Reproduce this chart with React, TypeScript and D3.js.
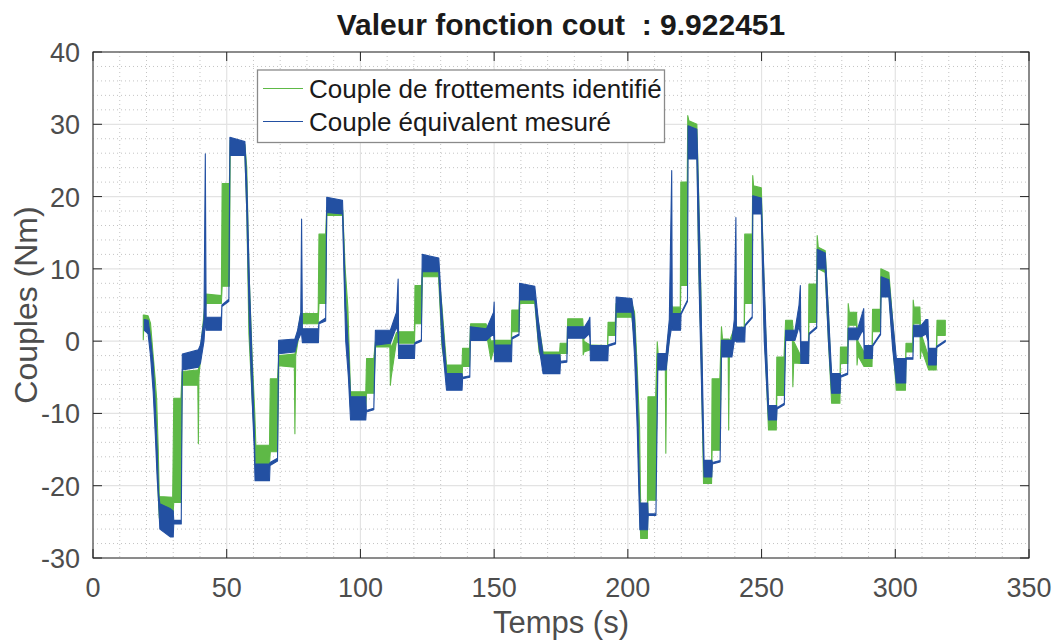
import { useEffect, useRef } from 'react';
import * as d3 from 'd3';

// [time (s), low, high] : band drawn by the oscillating signal
type Row = [number, number, number];

const xTicks = [0, 50, 100, 150, 200, 250, 300, 350];
const yTicks = [-30, -20, -10, 0, 10, 20, 30, 40];
const seriesNames = ['Couple de frottements identifié', 'Couple équivalent mesuré'];
const seriesColors = ['#5eb946', '#2350a2'];

const identified: Row[] = [
  [18.8, 0.2, 3.6], [19.1, 3.0, 3.6], [20.6, 2.9, 3.5], [21.5, 0.5, 2.5], [22.5, -5, -2],
  [23.2, -9, -5], [23.8, -15, -8], [24.4, -21.5, -15], [24.8, -24.5, -21.5], [29.8, -24.8, -21.6],
  [30.2, -22.3, -7.9], [32.9, -22.3, -7.9], [33.3, -6.1, -4.2], [39.2, -6.1, -4.0], [39.4, -14.2, -4.0],
  [39.6, -5, -3.5], [41.8, 4, 5], [42.3, 5.2, 6.5], [48.0, 5.2, 6.3], [48.3, 7.6, 21.8],
  [51.0, 7.6, 21.8], [51.3, 26, 27.8], [56.8, 25.8, 27.2], [57.5, 18, 24], [58.3, 1, 10],
  [59.5, -8, -2], [60.5, -14.5, -10], [60.9, -17, -14.4], [66.0, -17, -14.4], [66.3, -15.3, -5.2],
  [69.0, -15.3, -5.2], [69.5, -3.4, -2.0], [75.3, -3.6, -1.8], [75.5, -12.8, -2], [75.8, -2, -1],
  [77.5, 2, 3.5], [78.3, 2.4, 3.8], [84.2, 2.4, 3.8], [84.5, 5.2, 14.8], [87.0, 5.2, 14.8],
  [87.4, 17.4, 18.5], [93.4, 17.4, 18.1], [94.3, 4.7, 10], [95.3, -0.8, 4.7], [96.3, -9.1, -7],
  [102.0, -9.1, -7], [102.3, -7.2, -2.4], [105.0, -7.2, -2.4], [105.6, -0.8, -0.1], [111.0, -0.8, 0.1],
  [111.2, -6.1, 0], [111.5, -5, -1], [113.5, 0, 1.2], [114.3, -0.3, 1.3], [120.2, -0.3, 1.3],
  [120.4, 2.4, 7.7], [122.8, 2.4, 7.7], [123.2, 8.9, 10], [129.2, 8.9, 9.8], [130.5, -0.8, 4.7],
  [132.2, -4.9, -3.3], [138.0, -4.9, -3.3], [138.2, -3.5, -1], [140.8, -3.5, -1], [141.2, 1.3, 2.4],
  [147.0, 1.3, 2.4], [148.8, -2.6, 0], [150.2, -0.8, 0.1], [156.4, -0.8, 0.1], [156.6, 1.3, 4.3],
  [159.3, 1.3, 4.3], [159.6, 5.2, 6.3], [165.2, 5.2, 6.3], [166.8, -1.5, 2], [168.3, -2.9, -1.5],
  [174.5, -2.9, -1.5], [174.7, -1.7, -0.3], [177.3, -1.7, -0.3], [177.5, 1.7, 3.1], [183.1, 1.7, 3.1],
  [183.3, -1.9, 2], [183.6, -1.5, 0], [186.0, -1.2, -0.55], [192.4, -1.3, -0.6], [192.6, 0.8, 2.6],
  [195.3, 0.8, 2.6], [195.6, 3.3, 5.2], [201.5, 3.3, 5.2], [202.5, 0, 4], [203.5, -8.2, -3.6],
  [204.4, -22, -12], [204.8, -27.3, -23.4], [207.3, -27.3, -23.4], [207.5, -22, -7.7], [210.4, -22, -7.7],
  [211.0, -3.6, -0.1], [211.5, -3.6, -2.6], [214.0, -3.6, -2.6], [214.2, -15.5, -2.6], [214.5, -3, -1.5],
  [216.3, 3, 5], [216.7, 3.3, 4.7], [219.6, 3.3, 4.7], [219.8, 7.7, 22], [222.2, 7.7, 22],
  [222.4, 27.9, 31.2], [222.8, 27.9, 30.5], [225.8, 27.5, 30], [226.5, 10, 20], [227.3, 0, 7],
  [228.3, -19.7, -17.4], [231.3, -19.7, -17.4], [231.5, -15.1, -5.2], [234.4, -15.1, -5.2], [235.0, -1, 2],
  [235.4, -1, 0.3], [237.5, -1, 0.3], [237.7, -12.3, 0.3], [238.0, -1, 0], [239.5, 0, 1.5],
  [240.5, 1.0, 1.9], [243.5, 1.0, 1.9], [243.7, 5.2, 14.8], [246.5, 5.2, 14.8], [246.7, 19.4, 22.9],
  [247.0, 19.4, 21.5], [249.9, 19.0, 21.2], [251.0, 2, 7], [252.6, -12.3, -10], [255.5, -12.3, -10],
  [255.7, -7.5, -2.2], [258.4, -7.5, -2.2], [259.0, 1.0, 2.9], [261.5, 1.0, 2.9], [261.7, -6.3, 2],
  [262.0, -3, 0], [264.6, -3.1, -2], [267.5, -3.1, -2], [267.7, 2.6, 7.9], [270.6, 2.6, 7.9],
  [270.8, 10, 14.6], [271.2, 10, 13], [273.8, 9.5, 12.5], [275.0, 0, 4], [276.2, -8.6, -6.3],
  [279.3, -8.6, -6.3], [279.5, -3.1, -0.8], [282.2, -3.1, -0.8], [282.4, 2.2, 5.2], [282.8, 2.2, 4],
  [285.5, 2.2, 4], [285.7, -3.3, 2], [286.0, -2, 0], [288.3, -3.5, -1.5], [291.3, -3.5, -1.5],
  [291.5, 1.3, 4.4], [294.4, 1.3, 4.4], [294.6, 6.6, 10], [297.6, 6.6, 9.5], [299.0, 0, 3],
  [300.4, -6.8, -3.5], [303.8, -6.8, -3.5], [304.0, -1.5, -0.3], [306.5, -1.5, -0.3], [306.7, 2, 5.7],
  [307.0, 2.4, 4.7], [309.2, 2.4, 4.7], [309.4, -2.4, 2.4], [309.7, -1, 1], [312.5, -4, -2.2],
  [315.3, -4, -2.2], [315.6, 0.8, 2.9], [318.7, 0.8, 2.9],
];

const measured: Row[] = [
  [19.2, 1.5, 3.0], [20.6, 1.0, 2.9], [21.5, -2, 0.5], [22.5, -7, -3], [23.3, -13, -9],
  [24.0, -19, -15], [24.5, -22, -21], [25.0, -26, -22.5], [29.0, -27.1, -23.2], [30.0, -27.1, -23.5],
  [30.2, -25.3, -24.8], [33.0, -25.3, -24.8], [33.4, -4.0, -1.8], [39.4, -3.6, -1.2], [40.2, -3, -0.5],
  [41.5, 0, 3], [42.0, 3, 25.9], [42.3, 1.5, 3.3], [48.0, 1.5, 3.3], [48.2, 4.8, 5.0],
  [50.8, 5.5, 5.8], [51.2, 25.7, 28.2], [56.8, 25.7, 27.6], [57.5, 18, 22], [58.5, 2, 8],
  [59.5, -8, -3], [60.3, -15, -12], [60.6, -19.3, -17], [66.0, -19.3, -17], [66.2, -17.2, -16.8],
  [69.0, -16.6, -16.2], [69.4, -1.75, 0.1], [75.5, -1.5, 0.3], [76.5, 0, 1.5], [77.7, 1, 4],
  [78.0, 1, 16.9], [78.3, -0.2, 1.7], [84.3, -0.2, 1.7], [84.5, 2.4, 2.6], [87.0, 2.8, 3.2],
  [87.4, 17.8, 19.9], [93.3, 17.6, 19.5], [94.5, 0, 5], [95.5, -5, -1], [96.3, -10.9, -7.7],
  [102.0, -10.9, -7.7], [102.2, -9.8, -9.6], [105.0, -9.5, -9.3], [105.6, -0.55, 1.5], [111.2, -0.3, 1.5],
  [113.5, 2, 4], [114.1, 1, 8.6], [114.3, -2.4, -0.55], [120.2, -2.4, -0.55], [120.4, -0.4, -0.2],
  [122.8, 0, 0.2], [123.1, 9.6, 12], [129.3, 9.6, 11.5], [130.5, 0, 4], [131.5, -4, -1],
  [132.2, -6.8, -4.5], [138.0, -6.8, -4.5], [138.2, -5.2, -5.0], [140.9, -5.0, -4.8], [141.1, 0.1, 2.0],
  [147.1, 0.1, 1.7], [149.8, 1, 4], [150.0, 0, 5.4], [150.2, -2.85, -0.55], [156.5, -2.85, -0.55],
  [156.7, 0.3, 0.5], [159.3, 0.8, 1.0], [159.5, 5.7, 8], [165.2, 5.7, 7.6], [166.5, 0, 3],
  [168.3, -4.5, -1.9], [174.6, -4.5, -1.9], [174.8, -3.0, -2.8], [177.2, -2.9, -2.7], [177.4, 0.4, 2.0],
  [183.8, 0.4, 2.0], [185.5, 1, 3], [185.8, 0.5, 3.3], [186.0, -2.7, -0.6], [192.5, -2.7, -0.6],
  [192.7, -0.7, -0.5], [195.4, -0.4, -0.2], [195.6, 4, 6.1], [201.5, 4, 5.9], [202.5, -2, 3],
  [203.5, -12, -6], [204.2, -22, -18], [204.5, -26.1, -22.4], [207.4, -26.1, -22.4], [207.6, -24.1, -23.9],
  [210.5, -24.1, -23.9], [211.2, -4, -1.7], [214.3, -4, -1.7], [215.5, 0, 3], [216.4, 2, 23.6],
  [216.6, 1.5, 3.8], [219.7, 1.5, 3.8], [219.9, 3.7, 3.9], [222.3, 5.5, 5.7], [222.5, 25.2, 29.8],
  [225.8, 25.2, 29.3], [226.8, 5, 15], [227.8, -10, -3], [228.5, -18.8, -16.5], [231.4, -18.8, -16.5],
  [231.6, -17, -16.8], [234.5, -16.7, -16.5], [235.0, -2.2, 0.1], [238.9, -2.2, 0.1], [239.8, 0, 3],
  [240.4, 0, 17.1], [240.6, -0.1, 1.9], [243.7, -0.1, 1.9], [243.9, 2.1, 2.3], [246.5, 3.2, 3.4],
  [246.7, 17.6, 20.1], [249.9, 17.6, 19.8], [251.0, 0, 8], [252.6, -10.9, -8.9], [255.6, -10.9, -8.9],
  [255.8, -9.4, -9.2], [258.5, -8.8, -8.6], [259.0, 0.1, 1.5], [262.5, 0.1, 1.5], [264.0, 2, 5],
  [264.5, 1, 7.7], [264.7, -3.1, -0.1], [267.6, -3.1, -0.1], [267.8, 0.9, 1.1], [270.6, 1.8, 2.0],
  [270.8, 10, 12.7], [273.8, 10, 12.2], [275.0, 0, 4], [276.2, -7.2, -4.5], [279.4, -7.2, -4.5],
  [279.6, -5.0, -4.8], [282.2, -4.6, -4.4], [282.4, 0.2, 1.8], [286.0, 0.2, 1.8], [287.8, 1.5, 4],
  [288.2, 1, 4.5], [288.4, -2.4, -0.6], [291.4, -2.4, -0.6], [291.6, -0.7, -0.5], [294.5, 0.9, 1.1],
  [294.7, 6.1, 8.9], [297.6, 6.1, 8.5], [299.0, -1, 3], [300.4, -5.8, -2.4], [303.9, -5.8, -2.4],
  [304.1, -2.5, -2.3], [306.6, -2.5, -2.3], [306.8, 0.6, 2.2], [309.7, 0.6, 2.2], [311.5, 1, 3],
  [312.2, 0, 3], [312.5, -3.3, -1], [315.3, -3.3, -1], [315.5, -0.9, -0.7], [318.7, -0.1, 0.1],
];

const FONT = '"Liberation Sans", Arial, Helvetica, sans-serif';

export default function App() {
  const svgRef = useRef<SVGSVGElement>(null);

  useEffect(() => {
    if (!svgRef.current) return;
    const svg = d3.select(svgRef.current);
    svg.selectAll('*').remove();

    const left = 93, right = 1029, top = 52, bottom = 558;
    const x = d3.scaleLinear().domain([0, 350]).range([left, right]);
    const y = d3.scaleLinear().domain([-30, 40]).range([bottom, top]);

    svg.append('rect').attr('width', 1055).attr('height', 642).attr('fill', '#fff');

    // minor grid (dotted)
    const minorX = d3.range(0, 351, 10).filter((v) => v % 50 !== 0);
    const minorY = d3.range(-30, 41, 2).filter((v) => v % 10 !== 0);
    const grid = svg.append('g');
    grid.selectAll('.mx').data(minorX).join('line')
      .attr('x1', (d) => x(d)).attr('x2', (d) => x(d)).attr('y1', top).attr('y2', bottom)
      .attr('stroke', '#c4c4c4').attr('stroke-width', 1).attr('stroke-dasharray', '1 3');
    grid.selectAll('.my').data(minorY).join('line')
      .attr('x1', left).attr('x2', right).attr('y1', (d) => y(d)).attr('y2', (d) => y(d))
      .attr('stroke', '#c4c4c4').attr('stroke-width', 1).attr('stroke-dasharray', '1 3');
    // major grid
    grid.selectAll('.gx').data(xTicks).join('line')
      .attr('x1', (d) => x(d)).attr('x2', (d) => x(d)).attr('y1', top).attr('y2', bottom)
      .attr('stroke', '#e3e3e3').attr('stroke-width', 1.2);
    grid.selectAll('.gy').data(yTicks).join('line')
      .attr('x1', left).attr('x2', right).attr('y1', (d) => y(d)).attr('y2', (d) => y(d))
      .attr('stroke', '#e3e3e3').attr('stroke-width', 1.2);

    svg.append('clipPath').attr('id', 'plot-clip')
      .append('rect').attr('x', left).attr('y', top).attr('width', right - left).attr('height', bottom - top);

    const band = d3.area<Row>()
      .x((d) => x(d[0]))
      .y0((d) => y(d[1]))
      .y1((d) => y(d[2]));

    const plot = svg.append('g').attr('clip-path', 'url(#plot-clip)');
    [identified, measured].forEach((rows, i) => {
      plot.append('path')
        .datum(rows)
        .attr('d', band)
        .attr('fill', seriesColors[i])
        .attr('stroke', seriesColors[i])
        .attr('stroke-width', 1.1)
        .attr('stroke-linejoin', 'round');
    });

    // axes box + ticks
    const axisColor = '#262626';
    svg.append('rect').attr('x', left).attr('y', top).attr('width', right - left).attr('height', bottom - top)
      .attr('fill', 'none').attr('stroke', axisColor).attr('stroke-width', 1);
    const tickLen = 9;
    const ticks = svg.append('g').attr('stroke', axisColor).attr('stroke-width', 1);
    xTicks.forEach((v) => {
      ticks.append('line').attr('x1', x(v)).attr('x2', x(v)).attr('y1', bottom).attr('y2', bottom - tickLen);
      ticks.append('line').attr('x1', x(v)).attr('x2', x(v)).attr('y1', top).attr('y2', top + tickLen);
    });
    yTicks.forEach((v) => {
      ticks.append('line').attr('x1', left).attr('x2', left + tickLen).attr('y1', y(v)).attr('y2', y(v));
      ticks.append('line').attr('x1', right).attr('x2', right - tickLen).attr('y1', y(v)).attr('y2', y(v));
    });

    const labelColor = '#4d4d4d';
    svg.append('g').selectAll('text').data(xTicks).join('text')
      .attr('x', (d) => x(d)).attr('y', 597)
      .attr('text-anchor', 'middle')
      .attr('font-family', FONT).attr('font-size', 27).attr('fill', labelColor)
      .text((d) => String(d));
    svg.append('g').selectAll('text').data(yTicks).join('text')
      .attr('x', 80).attr('y', (d) => y(d) + 10)
      .attr('text-anchor', 'end')
      .attr('font-family', FONT).attr('font-size', 27).attr('fill', labelColor)
      .text((d) => String(d));

    svg.append('text')
      .attr('x', 561).attr('y', 633)
      .attr('text-anchor', 'middle')
      .attr('font-family', FONT).attr('font-size', 31).attr('fill', labelColor)
      .text('Temps (s)');
    svg.append('text')
      .attr('transform', `translate(37,305) rotate(-90)`)
      .attr('text-anchor', 'middle')
      .attr('font-family', FONT).attr('font-size', 32).attr('fill', labelColor)
      .text('Couples (Nm)');

    svg.append('text')
      .attr('x', 561).attr('y', 35)
      .attr('text-anchor', 'middle')
      .style('white-space', 'pre')
      .attr('font-family', FONT).attr('font-size', 30).attr('font-weight', 'bold').attr('fill', '#1a1a1a')
      .text('Valeur fonction cout  : 9.922451');

    // legend
    const legend = svg.append('g');
    legend.append('rect').attr('x', 257.5).attr('y', 70).attr('width', 407).attr('height', 72.5)
      .attr('fill', '#fff').attr('stroke', '#8a8a8a').attr('stroke-width', 1.3);
    seriesNames.forEach((name, i) => {
      const ly = 88.5 + i * 33;
      legend.append('line').attr('x1', 263).attr('x2', 303).attr('y1', ly).attr('y2', ly)
        .attr('stroke', seriesColors[i]).attr('stroke-width', 1.2);
      legend.append('text').attr('x', 309).attr('y', ly + 9)
        .attr('font-family', FONT).attr('font-size', 26).attr('fill', '#1a1a1a')
        .text(name);
    });
  }, []);

  return (
    <svg
      ref={svgRef}
      width={1055}
      height={642}
      style={{ position: 'absolute', left: 0, top: 0, display: 'block' }}
    />
  );
}
